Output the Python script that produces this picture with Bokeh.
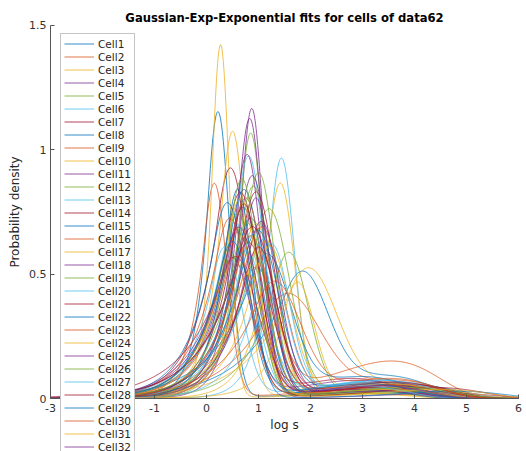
import numpy as np
from bokeh.plotting import figure
from bokeh.models import Range1d, Legend, LegendItem, FixedTicker, Label
from bokeh.embed import file_html
from bokeh.resources import INLINE

# ---- data (per-cell fit parameters) ----
cells = [f"Cell{i}" for i in range(1, 61)]
# Gaussian core centre (log s)
peak_mu = [0.22, 0.15, 0.27, 0.87, 0.85, 1.44, 0.46, 1.83, 1.55, 0.50,
           0.83, 1.58, 0.81, 0.65, 0.72, 0.95, 1.42, 0.88, 1.20, 0.55,
           0.95, 0.40, 1.05, 1.95, 0.70, 0.90, 1.10, 0.55, 0.85, 0.60,
           1.75, 0.78, 1.00, 0.35, 0.80, 1.15, 0.75, 0.95, 0.50, 0.68,
           0.90, 0.72, 0.98, 0.45, 1.20, 1.05, 0.60, 0.75, 1.00, 0.60,
           0.85, 0.65, 0.95, 0.78, 1.25, 0.88, 0.50, 1.30, 0.80, 0.62]
# Gaussian core width
peak_sigma = [0.22, 0.24, 0.17, 0.22, 0.24, 0.25, 0.34, 0.50, 0.62, 0.25,
              0.25, 0.38, 0.30, 0.36, 0.36, 0.40, 0.28, 0.32, 0.40, 0.36,
              0.36, 0.36, 0.42, 0.55, 0.36, 0.34, 0.38, 0.42, 0.36, 0.38,
              0.32, 0.28, 0.32, 0.32, 0.42, 0.46, 0.36, 0.36, 0.36, 0.30,
              0.36, 0.32, 0.40, 0.36, 0.40, 0.36, 0.36, 0.40, 0.36, 0.28,
              0.38, 0.34, 0.30, 0.36, 0.34, 0.42, 0.36, 0.50, 0.34, 0.38]
# exponential left-tail switch point (in core widths)
tail_k = [0.9, 0.8, 1.0, 0.8, 0.8, 0.9, 0.7, 0.6, 0.8, 0.8,
          0.8, 0.7, 0.8, 0.7, 0.7, 0.7, 0.8, 0.8, 0.7, 0.7,
          0.7, 0.7, 0.7, 0.7, 0.7, 0.8, 0.7, 0.55, 0.7, 0.7,
          0.9, 0.8, 0.8, 0.7, 0.6, 0.6, 0.7, 0.8, 0.6, 0.8,
          0.7, 0.7, 0.7, 0.7, 0.8, 0.8, 0.7, 0.6, 0.7, 0.8,
          0.7, 0.7, 0.8, 0.7, 0.8, 0.6, 0.7, 0.7, 0.9, 0.6]
# peak height of the Gaussian-Exp component
peak_amp = [1.15, 0.86, 1.42, 1.16, 1.06, 0.96, 0.92, 0.47, 0.40, 1.07,
            1.12, 0.58, 0.97, 0.82, 0.83, 0.50, 0.86, 0.89, 0.75, 0.70,
            0.82, 0.78, 0.68, 0.50, 0.76, 0.85, 0.62, 0.55, 0.72, 0.66,
            0.45, 0.98, 0.90, 0.60, 0.62, 0.55, 0.80, 0.70, 0.55, 0.88,
            0.65, 0.78, 0.66, 0.72, 0.60, 0.70, 0.74, 0.58, 0.60, 0.84,
            0.64, 0.80, 0.80, 0.70, 0.60, 0.68, 0.62, 0.45, 0.50, 0.68]
# weight of the exponential (slow) component
slow_w = [0.08, 0.10, 0.05, 0.08, 0.10, 0.06, 0.12, 0.25, 0.20, 0.06,
          0.08, 0.06, 0.07, 0.15, 0.12, 0.41, 0.05, 0.10, 0.12, 0.18,
          0.14, 0.10, 0.16, 0.15, 0.12, 0.08, 0.20, 0.22, 0.14, 0.18,
          0.10, 0.06, 0.08, 0.20, 0.16, 0.24, 0.12, 0.10, 0.20, 0.08,
          0.14, 0.12, 0.18, 0.15, 0.16, 0.10, 0.12, 0.20, 0.14, 0.08,
          0.16, 0.10, 0.08, 0.12, 0.14, 0.18, 0.16, 0.22, 0.10, 0.14]
# log time constant of the exponential component
slow_c = [3.2, 3.0, 3.0, 3.3, 3.4, 3.5, 3.2, 3.4, 3.6, 3.0,
          3.3, 3.4, 3.2, 3.5, 3.1, 3.55, 3.4, 3.6, 3.3, 3.7,
          3.4, 2.9, 3.8, 3.5, 3.2, 3.9, 3.3, 2.8, 4.0, 3.4,
          3.2, 4.6, 3.1, 3.3, 3.8, 3.0, 3.5, 4.2, 2.9, 3.6,
          3.3, 4.4, 3.2, 3.7, 3.5, 3.0, 3.9, 3.4, 3.6, 4.8,
          3.2, 3.5, 3.3, 3.8, 2.9, 3.6, 3.1, 3.5, 4.5, 3.3]
legend_count = 32  # entries visible in the window

title_text = "Gaussian-Exp-Exponential fits for cells of data62"
x_ticks = [-3, -2, -1, 0, 1, 2, 3, 4, 5, 6]
x_tick_labels = {-3: "-3", -2: "-2", -1: "-1"}
y_ticks = [0, 0.5, 1, 1.5]
y_tick_labels = {0: "0", 0.5: "0.5", 1: "1", 1.5: "1.5"}

colors = ["#0072BD", "#D95319", "#EDB120", "#7E2F8E", "#77AC30", "#4DBEEE", "#A2142F"]
FONT = "DejaVu Sans"
W, H = 526, 451

# frame covers the whole canvas; axes are pinned at x=-3 and y=0
p = figure(width=W, height=H, output_backend="svg", toolbar_location=None,
           x_range=Range1d(-3.9615, 6.1538), y_range=Range1d(-0.2131, 1.6005),
           min_border=0)
p.outline_line_color = None
p.xgrid.visible = False
p.ygrid.visible = False
p.background_fill_color = "white"
p.border_fill_color = "white"

for ax in (p.xaxis[0], p.yaxis[0]):
    ax.axis_line_color = "#555555"
    ax.major_tick_line_color = "#555555"
    ax.major_tick_in = 4
    ax.major_tick_out = 0
    ax.minor_tick_line_color = None
    ax.major_label_text_font = FONT
    ax.major_label_text_font_size = "11px"
    ax.major_label_text_color = "#333333"
    ax.axis_label_text_font = FONT
    ax.axis_label_text_font_size = "12px"
    ax.axis_label_text_font_style = "normal"
    ax.axis_label_text_color = "#262626"

p.xaxis.ticker = FixedTicker(ticks=x_ticks)
p.xaxis.major_label_overrides = x_tick_labels
p.xaxis.fixed_location = 0
p.xaxis.bounds = (-3, 6)
p.yaxis.ticker = FixedTicker(ticks=y_ticks)
p.yaxis.major_label_overrides = y_tick_labels
p.yaxis.fixed_location = -3
p.yaxis.bounds = (0, 1.5)
p.xaxis.axis_label = "log s"
p.yaxis.axis_label = "Probability density"
p.xaxis.major_label_standoff = 5
p.yaxis.major_label_standoff = 4
p.xaxis.axis_label_standoff = 3
p.yaxis.axis_label_standoff = 4

x = np.linspace(-3, 6, 900)
items = []
for i, name in enumerate(cells):
    mu, s, k, a = peak_mu[i], peak_sigma[i], tail_k[i], peak_amp[i]
    z = (x - mu) / s
    core = np.where(z > -k, np.exp(-0.5 * z * z), np.exp(0.5 * k * k + k * z))
    u = x - slow_c[i]
    slow = slow_w[i] * np.exp(u - np.exp(u))
    y = a * core + slow
    r = p.line(x, y, line_color=colors[i % 7], line_width=0.8)
    if i < legend_count:
        items.append(LegendItem(label=name, renderers=[r]))

legend = Legend(items=items, location=(60, -6), padding=3, spacing=0, margin=0,
                glyph_width=30, glyph_height=13, label_height=13, label_standoff=4,
                label_text_font=FONT, label_text_font_size="10.5px",
                label_text_color="#262626",
                border_line_color="#8a8a8a", border_line_width=0.8,
                background_fill_color="white", background_fill_alpha=1.0)
p.add_layout(legend)

title = Label(x=284, y=H - 17, x_units="screen", y_units="screen", text=title_text,
              text_align="center", text_baseline="middle", text_font=FONT,
              text_font_size="11.6px", text_font_style="bold", text_color="#000000")
p.add_layout(title)

open("out.html", "w").write(file_html(p, INLINE))
